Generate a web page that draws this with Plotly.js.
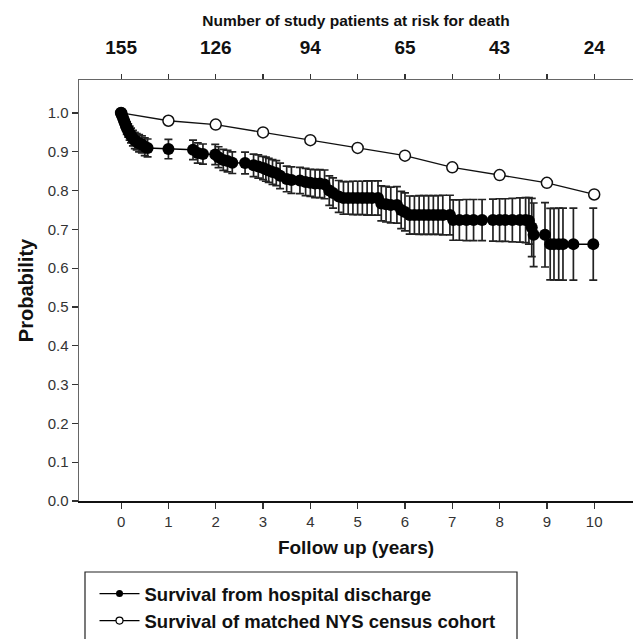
<!DOCTYPE html>
<html>
<head>
<meta charset="utf-8">
<script src="https://cdn.plot.ly/plotly-3.0.1.min.js"></script>
<style>html,body{margin:0;padding:0;background:#fff;}#chart{width:633px;height:639px;}</style>
</head>
<body>
<div id="chart"></div>
<script>
// Kaplan-Meier survival from hospital discharge (years, probability, CI half-width)
var kmYears = [0, 0.02, 0.04, 0.06, 0.08, 0.1, 0.12, 0.15, 0.18, 0.21, 0.25, 0.29, 0.33, 0.38, 0.44, 0.5, 0.56,
  1.0, 1.52, 1.62, 1.73, 1.99, 2.06, 2.16, 2.25, 2.35, 2.62, 2.8, 2.9, 3.0, 3.06, 3.12, 3.2, 3.28, 3.36, 3.5, 3.6, 3.78,
  3.9, 4.0, 4.1, 4.2, 4.3, 4.4, 4.48, 4.6, 4.7, 4.8, 4.9, 5.0, 5.1, 5.2, 5.3, 5.43, 5.5, 5.6, 5.7, 5.83, 5.92, 6.0, 6.1,
  6.2, 6.3, 6.4, 6.5, 6.6, 6.7, 6.8, 6.95, 7.02, 7.15, 7.3, 7.45, 7.63, 7.86, 8.0, 8.12, 8.27, 8.43, 8.55, 8.62, 8.68,
  8.72, 8.96, 9.07, 9.15, 9.25, 9.34, 9.56, 9.98];
var kmSurvival = [1.0, 0.994, 0.987, 0.981, 0.974, 0.968, 0.961, 0.955, 0.948, 0.942, 0.935, 0.929, 0.926, 0.922, 0.919, 0.913, 0.91,
  0.907, 0.905, 0.897, 0.894, 0.893, 0.886, 0.879, 0.876, 0.872, 0.871, 0.865, 0.862, 0.858, 0.855, 0.852, 0.848, 0.845, 0.838, 0.83, 0.827, 0.826,
  0.822, 0.82, 0.818, 0.818, 0.816, 0.8, 0.794, 0.785, 0.781, 0.781, 0.781, 0.781, 0.781, 0.781, 0.781, 0.781, 0.767, 0.765, 0.763, 0.763, 0.75, 0.745, 0.737,
  0.737, 0.737, 0.737, 0.737, 0.737, 0.737, 0.737, 0.737, 0.724, 0.724, 0.724, 0.724, 0.724, 0.724, 0.724, 0.724, 0.724, 0.724, 0.724, 0.722, 0.705,
  0.686, 0.686, 0.662, 0.662, 0.662, 0.662, 0.662, 0.662];
var kmError = [0, 0.006, 0.009, 0.011, 0.013, 0.014, 0.016, 0.017, 0.018, 0.019, 0.02, 0.021, 0.021, 0.022, 0.022, 0.023, 0.023,
  0.025, 0.025, 0.026, 0.026, 0.026, 0.027, 0.027, 0.028, 0.028, 0.028, 0.029, 0.03, 0.03, 0.031, 0.031, 0.032, 0.032, 0.033, 0.033, 0.034, 0.034,
  0.035, 0.035, 0.036, 0.036, 0.037, 0.038, 0.039, 0.041, 0.042, 0.042, 0.043, 0.043, 0.043, 0.044, 0.044, 0.044, 0.045, 0.046, 0.046, 0.047, 0.048, 0.049, 0.049,
  0.049, 0.05, 0.05, 0.05, 0.05, 0.05, 0.051, 0.051, 0.052, 0.052, 0.053, 0.053, 0.053, 0.054, 0.055, 0.055, 0.056, 0.057, 0.058, 0.06, 0.075,
  0.082, 0.083, 0.092, 0.092, 0.093, 0.093, 0.093, 0.093];

// Matched NYS census cohort
var censusYears = [0, 1, 2, 3, 4, 5, 6, 7, 8, 9, 10];
var censusSurvival = [1.0, 0.98, 0.97, 0.95, 0.93, 0.91, 0.89, 0.86, 0.84, 0.82, 0.79];

// Number at risk (top axis)
var riskYears = [0, 1, 2, 3, 4, 5, 6, 7, 8, 9, 10];
var riskLabels = ['155', '', '126', '', '94', '', '65', '', '43', '', '24'];

var yTicks = [0, 0.1, 0.2, 0.3, 0.4, 0.5, 0.6, 0.7, 0.8, 0.9, 1.0];
var seriesNames = ['Survival from hospital discharge', 'Survival of matched NYS census cohort'];

var boldFont = 'Liberation Sans, Arial, Helvetica, sans-serif';

var traces = [
  {
    x: censusYears, y: censusSurvival, type: 'scatter', mode: 'lines+markers',
    line: {color: '#111', width: 1.3},
    marker: {symbol: 'circle', size: 11, color: '#fff', line: {color: '#111', width: 1.5}},
    showlegend: false, hoverinfo: 'skip'
  },
  {
    x: kmYears, y: kmSurvival, type: 'scatter', mode: 'lines+markers',
    line: {color: '#000', width: 1.5},
    marker: {symbol: 'circle', size: 12, color: '#000'},
    error_y: {type: 'data', array: kmError, visible: true, color: '#222', thickness: 1.7, width: 4},
    showlegend: false, hoverinfo: 'skip'
  },
  {
    x: [null], y: [null], type: 'scatter', mode: 'lines+markers', name: seriesNames[0],
    line: {color: '#000', width: 1.2}, marker: {size: 7, color: '#000'}
  },
  {
    x: [null], y: [null], type: 'scatter', mode: 'lines+markers', name: seriesNames[1],
    line: {color: '#000', width: 1.2}, marker: {size: 7, color: '#fff', line: {color: '#000', width: 1.2}}
  },
  {
    x: riskYears, y: riskYears.map(function(){return null;}), xaxis: 'x2', yaxis: 'y',
    type: 'scatter', mode: 'markers', showlegend: false, hoverinfo: 'skip'
  }
];

var layout = {
  width: 633, height: 639,
  margin: {l: 79, r: 0, t: 80, b: 138, pad: 0, autoexpand: false},
  paper_bgcolor: '#fff', plot_bgcolor: '#fff',
  showlegend: true,
  font: {family: 'Liberation Sans, Arial, sans-serif', color: '#222'},
  xaxis: {
    range: [-0.89, 10.82], tickvals: riskYears, ticktext: riskYears.map(String),
    showgrid: false, zeroline: false, showline: true, linecolor: '#111', linewidth: 2,
    ticks: 'outside', ticklen: 6, tickwidth: 1.2, tickcolor: '#333',
    tickfont: {size: 15, color: '#333', family: 'Liberation Sans, Arial, sans-serif'},
    title: {text: '<b>Follow up (years)</b>', font: {size: 19, color: '#111', family: boldFont}, standoff: 12}
  },
  xaxis2: {
    overlaying: 'x', side: 'top', matches: 'x', range: [-0.89, 10.82],
    tickvals: riskYears, ticktext: riskLabels,
    showgrid: false, zeroline: false, showline: true, linecolor: '#666', linewidth: 1.5,
    ticks: 'outside', ticklen: 5, tickwidth: 1.2, tickcolor: '#333',
    ticklabelstandoff: 12,
    tickfont: {size: 19, color: '#111', family: boldFont, weight: 'bold'},
    title: {text: '<b>Number of study patients at risk for death</b>', font: {size: 15.5, color: '#111', family: boldFont}, standoff: 6}
  },
  yaxis: {
    range: [0, 1.085], tickvals: yTicks, tickformat: '.1f',
    showgrid: false, zeroline: false, showline: true, linecolor: '#666', linewidth: 1.5,
    ticks: 'outside', ticklen: 6, tickwidth: 1.2, tickcolor: '#333',
    tickfont: {size: 15, color: '#333', family: 'Liberation Sans, Arial, sans-serif'},
    title: {text: '<b>Probability</b>', font: {size: 20, color: '#111', family: boldFont}, standoff: 8}
  },
  legend: {
    x: 0.028, y: (501 - 575) / 421, xanchor: 'left', yanchor: 'top',
    bgcolor: 'rgba(0,0,0,0)', borderwidth: 0,
    font: {size: 18.5, color: '#111', family: boldFont, weight: 'bold'},
    tracegroupgap: 0, itemwidth: 40
  },
  shapes: [{
    type: 'rect', xref: 'paper', yref: 'paper',
    x0: (85 - 79) / 554, x1: (517 - 79) / 554, y0: (501 - 572) / 421, y1: (501 - 660) / 421,
    line: {color: '#222', width: 1.2}, fillcolor: 'rgba(0,0,0,0)', layer: 'below'
  }]
};

Plotly.newPlot('chart', traces, layout, {displayModeBar: false, staticPlot: true});
</script>
</body>
</html>
